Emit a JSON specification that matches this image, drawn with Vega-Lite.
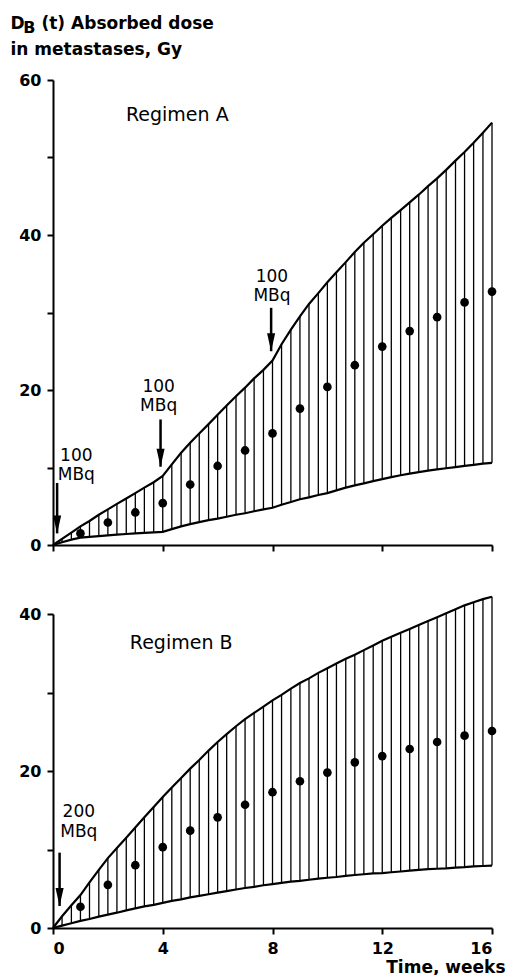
{
  "$schema": "https://vega.github.io/schema/vega-lite/v6.json",
  "background": "white",
  "padding": {"left": 10, "top": 14, "right": 0, "bottom": 0},
  "bounds": "flush",
  "spacing": 69,
  "resolve": {"scale": {"x": "independent", "y": "independent"}},
  "config": {
    "view": {"stroke": null},
    "axis": {
      "domainColor": "black", "domainWidth": 2, "tickColor": "black", "tickWidth": 2, "tickSize": 6,
      "grid": false, "labelColor": "black", "labelFont": "DejaVu Sans", "labelFontWeight": "bold",
      "labelFontSize": 16, "labelPadding": 6, "titleColor": "black", "titleFont": "DejaVu Sans",
      "titleFontWeight": "bold", "titleFontSize": 17
    },
    "text": {"font": "DejaVu Sans", "color": "black"}
  },
  "datasets": {
    "bandA": [
      {"t": 0, "lo": 0, "hi": 0}, {"t": 0.33, "lo": 0.35, "hi": 0.8}, {"t": 0.67, "lo": 0.7, "hi": 1.6},
      {"t": 1, "lo": 0.95, "hi": 2.4}, {"t": 1.33, "lo": 1.05, "hi": 3.1}, {"t": 1.67, "lo": 1.15, "hi": 3.9},
      {"t": 2, "lo": 1.25, "hi": 4.6}, {"t": 2.33, "lo": 1.33, "hi": 5.3}, {"t": 2.67, "lo": 1.42, "hi": 6.0},
      {"t": 3, "lo": 1.5, "hi": 6.7}, {"t": 3.33, "lo": 1.57, "hi": 7.4}, {"t": 3.67, "lo": 1.64, "hi": 8.1},
      {"t": 4, "lo": 1.7, "hi": 8.9}, {"t": 4.33, "lo": 2.05, "hi": 10.4}, {"t": 4.67, "lo": 2.4, "hi": 11.9},
      {"t": 5, "lo": 2.7, "hi": 13.2}, {"t": 5.33, "lo": 2.95, "hi": 14.4}, {"t": 5.67, "lo": 3.2, "hi": 15.6},
      {"t": 6, "lo": 3.4, "hi": 16.8}, {"t": 6.33, "lo": 3.65, "hi": 18.0}, {"t": 6.67, "lo": 3.9, "hi": 19.2},
      {"t": 7, "lo": 4.1, "hi": 20.3}, {"t": 7.33, "lo": 4.35, "hi": 21.5}, {"t": 7.67, "lo": 4.6, "hi": 22.6},
      {"t": 8, "lo": 4.8, "hi": 23.8}, {"t": 8.33, "lo": 5.2, "hi": 25.9}, {"t": 8.67, "lo": 5.55, "hi": 27.8},
      {"t": 9, "lo": 5.9, "hi": 29.5}, {"t": 9.33, "lo": 6.15, "hi": 31.1}, {"t": 9.67, "lo": 6.45, "hi": 32.5},
      {"t": 10, "lo": 6.7, "hi": 33.9}, {"t": 10.33, "lo": 7.05, "hi": 35.2}, {"t": 10.67, "lo": 7.4, "hi": 36.5},
      {"t": 11, "lo": 7.7, "hi": 37.8}, {"t": 11.33, "lo": 7.95, "hi": 39.0}, {"t": 11.67, "lo": 8.25, "hi": 40.1},
      {"t": 12, "lo": 8.5, "hi": 41.2}, {"t": 12.33, "lo": 8.75, "hi": 42.2}, {"t": 12.67, "lo": 9.0, "hi": 43.2},
      {"t": 13, "lo": 9.2, "hi": 44.2}, {"t": 13.33, "lo": 9.4, "hi": 45.2}, {"t": 13.67, "lo": 9.6, "hi": 46.3},
      {"t": 14, "lo": 9.75, "hi": 47.3}, {"t": 14.33, "lo": 9.9, "hi": 48.4}, {"t": 14.67, "lo": 10.05, "hi": 49.6},
      {"t": 15, "lo": 10.2, "hi": 50.7}, {"t": 15.33, "lo": 10.35, "hi": 51.9}, {"t": 15.67, "lo": 10.5, "hi": 53.2},
      {"t": 16, "lo": 10.6, "hi": 54.5}
    ],
    "dotsA": [
      {"t": 1, "v": 1.5}, {"t": 2, "v": 2.9}, {"t": 3, "v": 4.2}, {"t": 4, "v": 5.4},
      {"t": 5, "v": 7.8}, {"t": 6, "v": 10.2}, {"t": 7, "v": 12.2}, {"t": 8, "v": 14.4},
      {"t": 9, "v": 17.6}, {"t": 10, "v": 20.4}, {"t": 11, "v": 23.2}, {"t": 12, "v": 25.6},
      {"t": 13, "v": 27.6}, {"t": 14, "v": 29.4}, {"t": 15, "v": 31.3}, {"t": 16, "v": 32.7}
    ],
    "arrowsA": [
      {"t": 0.15, "top": 8.0, "tip": 1.5},
      {"t": 3.92, "top": 16.2, "tip": 10.1},
      {"t": 7.95, "top": 30.6, "tip": 25.0}
    ],
    "labelsA": [
      {"t": 0.85, "v": 10.9, "label": "100\nMBq"},
      {"t": 3.85, "v": 19.8, "label": "100\nMBq"},
      {"t": 7.98, "v": 34.0, "label": "100\nMBq"}
    ],
    "bandB": [
      {"t": 0, "lo": 0, "hi": 0}, {"t": 0.33, "lo": 0.3, "hi": 1.5}, {"t": 0.67, "lo": 0.6, "hi": 2.9},
      {"t": 1, "lo": 0.9, "hi": 4.2}, {"t": 1.33, "lo": 1.15, "hi": 5.8}, {"t": 1.67, "lo": 1.45, "hi": 7.4},
      {"t": 2, "lo": 1.7, "hi": 8.9}, {"t": 2.33, "lo": 1.95, "hi": 10.2}, {"t": 2.67, "lo": 2.25, "hi": 11.5},
      {"t": 3, "lo": 2.5, "hi": 12.8}, {"t": 3.33, "lo": 2.75, "hi": 14.1}, {"t": 3.67, "lo": 2.95, "hi": 15.4},
      {"t": 4, "lo": 3.2, "hi": 16.7}, {"t": 4.33, "lo": 3.45, "hi": 17.9}, {"t": 4.67, "lo": 3.65, "hi": 19.1},
      {"t": 5, "lo": 3.9, "hi": 20.3}, {"t": 5.33, "lo": 4.1, "hi": 21.4}, {"t": 5.67, "lo": 4.3, "hi": 22.6},
      {"t": 6, "lo": 4.5, "hi": 23.7}, {"t": 6.33, "lo": 4.7, "hi": 24.7}, {"t": 6.67, "lo": 4.9, "hi": 25.7},
      {"t": 7, "lo": 5.1, "hi": 26.6}, {"t": 7.33, "lo": 5.25, "hi": 27.4}, {"t": 7.67, "lo": 5.45, "hi": 28.2},
      {"t": 8, "lo": 5.6, "hi": 29.0}, {"t": 8.33, "lo": 5.75, "hi": 29.7}, {"t": 8.67, "lo": 5.9, "hi": 30.5},
      {"t": 9, "lo": 6.0, "hi": 31.2}, {"t": 9.33, "lo": 6.15, "hi": 31.8}, {"t": 9.67, "lo": 6.3, "hi": 32.5},
      {"t": 10, "lo": 6.4, "hi": 33.1}, {"t": 10.33, "lo": 6.5, "hi": 33.7}, {"t": 10.67, "lo": 6.65, "hi": 34.3},
      {"t": 11, "lo": 6.75, "hi": 34.8}, {"t": 11.33, "lo": 6.85, "hi": 35.4}, {"t": 11.67, "lo": 6.95, "hi": 36.0},
      {"t": 12, "lo": 7.0, "hi": 36.6}, {"t": 12.33, "lo": 7.1, "hi": 37.1}, {"t": 12.67, "lo": 7.2, "hi": 37.6},
      {"t": 13, "lo": 7.3, "hi": 38.1}, {"t": 13.33, "lo": 7.4, "hi": 38.6}, {"t": 13.67, "lo": 7.5, "hi": 39.1},
      {"t": 14, "lo": 7.55, "hi": 39.6}, {"t": 14.33, "lo": 7.6, "hi": 40.1}, {"t": 14.67, "lo": 7.7, "hi": 40.6},
      {"t": 15, "lo": 7.75, "hi": 41.1}, {"t": 15.33, "lo": 7.85, "hi": 41.5}, {"t": 15.67, "lo": 7.9, "hi": 41.9},
      {"t": 16, "lo": 7.95, "hi": 42.2}
    ],
    "dotsB": [
      {"t": 1, "v": 2.7}, {"t": 2, "v": 5.5}, {"t": 3, "v": 8.0}, {"t": 4, "v": 10.3},
      {"t": 5, "v": 12.4}, {"t": 6, "v": 14.1}, {"t": 7, "v": 15.7}, {"t": 8, "v": 17.3},
      {"t": 9, "v": 18.7}, {"t": 10, "v": 19.8}, {"t": 11, "v": 21.1}, {"t": 12, "v": 21.9},
      {"t": 13, "v": 22.8}, {"t": 14, "v": 23.7}, {"t": 15, "v": 24.5}, {"t": 16, "v": 25.1}
    ],
    "arrowsB": [
      {"t": 0.24, "top": 9.6, "tip": 2.8}
    ],
    "labelsB": [
      {"t": 0.94, "v": 14.1, "label": "200\nMBq"}
    ]
  },
  "vconcat": [
    {
      "width": 439,
      "height": 465,
      "layer": [
        {
          "data": {"name": "bandA"},
          "mark": {"type": "rule", "color": "black", "strokeWidth": 1.3},
          "encoding": {
            "x": {"field": "t", "type": "quantitative", "scale": {"domain": [0, 16], "nice": false},
              "axis": {"values": [0, 4, 8, 12, 16], "labels": false, "title": null}},
            "y": {"field": "lo", "type": "quantitative", "scale": {"domain": [0, 60], "nice": false},
              "axis": {"values": [0, 10, 20, 30, 40, 50, 60],
                "labelExpr": "datum.value % 20 === 0 ? datum.label : ''",
                "title": ["D", "in metastases, Gy"],
                "titleAngle": 0, "titleAlign": "left", "titleBaseline": "alphabetic",
                "titleX": -43, "titleY": -51.5, "titleLineHeight": 26}},
            "y2": {"field": "hi"}
          }
        },
        {
          "data": {"name": "bandA"},
          "mark": {"type": "line", "color": "black", "strokeWidth": 2.2},
          "encoding": {
            "x": {"field": "t", "type": "quantitative"},
            "y": {"field": "hi", "type": "quantitative"}
          }
        },
        {
          "data": {"name": "bandA"},
          "mark": {"type": "line", "color": "black", "strokeWidth": 2.2},
          "encoding": {
            "x": {"field": "t", "type": "quantitative"},
            "y": {"field": "lo", "type": "quantitative"}
          }
        },
        {
          "data": {"name": "dotsA"},
          "mark": {"type": "point", "filled": true, "color": "black", "size": 75, "opacity": 1},
          "encoding": {
            "x": {"field": "t", "type": "quantitative"},
            "y": {"field": "v", "type": "quantitative"}
          }
        },
        {
          "data": {"name": "arrowsA"},
          "mark": {"type": "rule", "color": "black", "strokeWidth": 2.5},
          "encoding": {
            "x": {"field": "t", "type": "quantitative"},
            "y": {"field": "top", "type": "quantitative"},
            "y2": {"field": "tip"}
          }
        },
        {
          "data": {"name": "arrowsA"},
          "mark": {"type": "point", "filled": true, "color": "black", "opacity": 1, "size": 324,
            "shape": "M -0.45 -2 L 0.45 -2 L 0 0 Z"},
          "encoding": {
            "x": {"field": "t", "type": "quantitative"},
            "y": {"field": "tip", "type": "quantitative"}
          }
        },
        {
          "data": {"name": "labelsA"},
          "mark": {"type": "text", "align": "center", "baseline": "alphabetic", "fontSize": 17,
            "lineBreak": "\n", "lineHeight": 19},
          "encoding": {
            "x": {"field": "t", "type": "quantitative"},
            "y": {"field": "v", "type": "quantitative"},
            "text": {"field": "label"}
          }
        },
        {
          "data": {"values": [{"t": 2.66, "v": 54.7, "label": "Regimen A"}]},
          "mark": {"type": "text", "align": "left", "baseline": "alphabetic", "fontSize": 19},
          "encoding": {
            "x": {"field": "t", "type": "quantitative"},
            "y": {"field": "v", "type": "quantitative"},
            "text": {"field": "label"}
          }
        },
        {
          "data": {"values": [{"t": -0.86, "v": 66.1, "label": "B"}]},
          "mark": {"type": "text", "align": "center", "baseline": "alphabetic", "fontSize": 16, "fontWeight": "bold"},
          "encoding": {
            "x": {"field": "t", "type": "quantitative"},
            "y": {"field": "v", "type": "quantitative"},
            "text": {"field": "label"}
          }
        },
        {
          "data": {"values": [{"t": -0.42, "v": 66.6, "label": "(t) Absorbed dose"}]},
          "mark": {"type": "text", "align": "left", "baseline": "alphabetic", "fontSize": 17, "fontWeight": "bold"},
          "encoding": {
            "x": {"field": "t", "type": "quantitative"},
            "y": {"field": "v", "type": "quantitative"},
            "text": {"field": "label"}
          }
        }
      ]
    },
    {
      "width": 439,
      "height": 314,
      "layer": [
        {
          "data": {"name": "bandB"},
          "mark": {"type": "rule", "color": "black", "strokeWidth": 1.3},
          "encoding": {
            "x": {"field": "t", "type": "quantitative", "scale": {"domain": [0, 16], "nice": false},
              "axis": {"values": [0, 4, 8, 12, 16], "title": "Time, weeks",
                "titleAlign": "right", "titleBaseline": "alphabetic", "titleX": 452, "titleY": 44}},
            "y": {"field": "lo", "type": "quantitative", "scale": {"domain": [0, 40], "nice": false},
              "axis": {"values": [0, 10, 20, 30, 40],
                "labelExpr": "datum.value % 20 === 0 ? datum.label : ''", "title": null}},
            "y2": {"field": "hi"}
          }
        },
        {
          "data": {"name": "bandB"},
          "mark": {"type": "line", "color": "black", "strokeWidth": 2.2},
          "encoding": {
            "x": {"field": "t", "type": "quantitative"},
            "y": {"field": "hi", "type": "quantitative"}
          }
        },
        {
          "data": {"name": "bandB"},
          "mark": {"type": "line", "color": "black", "strokeWidth": 2.2},
          "encoding": {
            "x": {"field": "t", "type": "quantitative"},
            "y": {"field": "lo", "type": "quantitative"}
          }
        },
        {
          "data": {"name": "dotsB"},
          "mark": {"type": "point", "filled": true, "color": "black", "size": 75, "opacity": 1},
          "encoding": {
            "x": {"field": "t", "type": "quantitative"},
            "y": {"field": "v", "type": "quantitative"}
          }
        },
        {
          "data": {"name": "arrowsB"},
          "mark": {"type": "rule", "color": "black", "strokeWidth": 2.5},
          "encoding": {
            "x": {"field": "t", "type": "quantitative"},
            "y": {"field": "top", "type": "quantitative"},
            "y2": {"field": "tip"}
          }
        },
        {
          "data": {"name": "arrowsB"},
          "mark": {"type": "point", "filled": true, "color": "black", "opacity": 1, "size": 324,
            "shape": "M -0.45 -2 L 0.45 -2 L 0 0 Z"},
          "encoding": {
            "x": {"field": "t", "type": "quantitative"},
            "y": {"field": "tip", "type": "quantitative"}
          }
        },
        {
          "data": {"name": "labelsB"},
          "mark": {"type": "text", "align": "center", "baseline": "alphabetic", "fontSize": 17,
            "lineBreak": "\n", "lineHeight": 20},
          "encoding": {
            "x": {"field": "t", "type": "quantitative"},
            "y": {"field": "v", "type": "quantitative"},
            "text": {"field": "label"}
          }
        },
        {
          "data": {"values": [{"t": 2.8, "v": 35.5, "label": "Regimen B"}]},
          "mark": {"type": "text", "align": "left", "baseline": "alphabetic", "fontSize": 19},
          "encoding": {
            "x": {"field": "t", "type": "quantitative"},
            "y": {"field": "v", "type": "quantitative"},
            "text": {"field": "label"}
          }
        }
      ]
    }
  ]
}
